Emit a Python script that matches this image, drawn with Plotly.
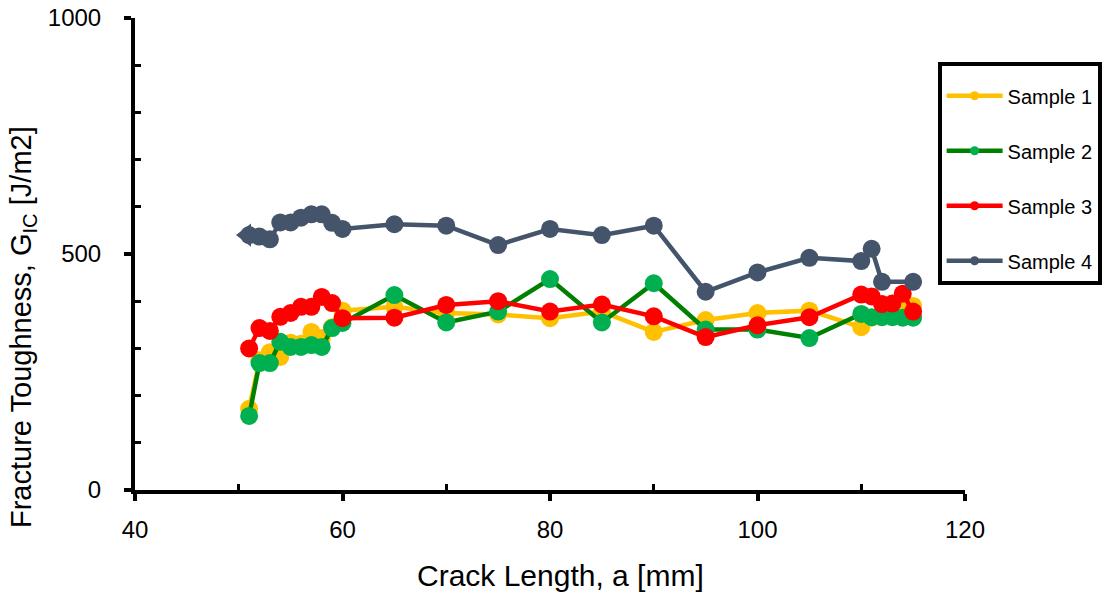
import plotly.graph_objects as go

# Sample 1
s1_x = [51, 52, 53, 54, 55, 56, 57, 58, 59, 60, 65, 70, 75, 80, 85, 90, 95, 100, 105, 110, 111, 112, 113, 114, 115]
s1_y = [172, 275, 292, 282, 312, 310, 335, 322, 345, 380, 388, 375, 372, 364, 378, 335, 360, 375, 380, 345, 365, 375, 385, 395, 390]
# Sample 2
s2_x = [51, 52, 53, 54, 55, 56, 57, 58, 59, 60, 65, 70, 75, 80, 85, 90, 95, 100, 105, 110, 111, 112, 113, 114, 115]
s2_y = [157, 269, 269, 314, 303, 303, 307, 303, 343, 354, 413, 355, 378, 447, 355, 438, 340, 340, 322, 373, 366, 366, 366, 365, 365]
# Sample 3
s3_x = [51, 52, 53, 54, 55, 56, 57, 58, 59, 60, 65, 70, 75, 80, 85, 90, 95, 100, 105, 110, 111, 112, 113, 114, 115]
s3_y = [300, 343, 337, 367, 375, 388, 388, 409, 396, 364, 365, 392, 400, 378, 393, 368, 324, 349, 366, 414, 410, 394, 395, 416, 378]
# Sample 4
s4_x = [51, 52, 53, 54, 55, 56, 57, 58, 59, 60, 65, 70, 75, 80, 85, 90, 95, 100, 105, 110, 111, 112, 115]
s4_y = [540, 537, 531, 567, 567, 577, 584, 584, 566, 553, 563, 560, 519, 553, 540, 560, 420, 461, 492, 485, 511, 441, 441]

names = ["Sample 1", "Sample 2", "Sample 3", "Sample 4"]
line_colors = ["#FFC000", "#008000", "#FF0000", "#44546A"]
marker_colors = ["#FFC000", "#00B050", "#FF0000", "#44546A"]

x_title = "Crack Length, a [mm]"
y_title = "Fracture Toughness, G<sub>IC</sub> [J/m2]"

fig = go.Figure()
series = [(s1_x, s1_y), (s2_x, s2_y), (s3_x, s3_y), (s4_x, s4_y)]
for (xs, ys), n, lc, mc in zip(series, names, line_colors, marker_colors):
    fig.add_trace(go.Scatter(x=xs, y=ys, mode="lines+markers", name=n,
                             line=dict(color=lc, width=4.5),
                             marker=dict(color=mc, size=18),
                             showlegend=False))
# triangle marker at start of sample 4
fig.add_trace(go.Scatter(x=[s4_x[0] - 0.3], y=[s4_y[0]], mode="markers",
                         marker=dict(color=marker_colors[3], size=20, symbol="triangle-left"),
                         showlegend=False))
# legend entries
for i, (n, lc, mc) in enumerate(zip(names, line_colors, marker_colors)):
    fig.add_trace(go.Scatter(x=[None], y=[None], mode="lines+markers", name=n,
                             line=dict(color=lc, width=4.5),
                             marker=dict(color=mc, size=9),
                             legendgroup=f"g{i}"))

FONT = "Liberation Sans, Arial"
tick_font = dict(family=FONT, size=24, color="#000000")

fig.update_layout(
    width=1118, height=592,
    margin=dict(l=135, r=153, t=18, b=102),
    plot_bgcolor="white", paper_bgcolor="white",
    font=dict(family=FONT, color="#000000"),
    xaxis=dict(range=[40, 120], tickvals=[40, 60, 80, 100, 120], showgrid=False, zeroline=False,
               showline=True, linecolor="black", linewidth=4, automargin=False,
               ticks="outside", ticklen=7, tickwidth=4, tickcolor="black",
               minor=dict(tickvals=[50, 70, 90, 110], ticks="inside", ticklen=6, tickwidth=3, tickcolor="black"),
               tickfont=tick_font, ticklabelstandoff=8),
    yaxis=dict(range=[0, 1000], tickvals=[0, 500, 1000], showgrid=False, zeroline=False,
               showline=True, linecolor="black", linewidth=4, automargin=False,
               ticks="outside", ticklen=7, tickwidth=4, tickcolor="black",
               minor=dict(tickvals=[100, 200, 300, 400, 600, 700, 800, 900], ticks="inside", ticklen=6, tickwidth=3, tickcolor="black"),
               tickfont=tick_font, ticklabelstandoff=18),
    legend=dict(x=0.967, y=0.907, xanchor="left", yanchor="top",
                bordercolor="black", borderwidth=4, bgcolor="white",
                font=dict(family=FONT, size=20, color="#000000"),
                title=dict(text=" ", font=dict(size=8)),
                tracegroupgap=26, itemwidth=56),
    annotations=[
        dict(text=x_title, xref="paper", yref="paper", x=(560 - 135) / 830, y=(490 - 575) / 472,
             xanchor="center", yanchor="middle", showarrow=False,
             font=dict(family=FONT, size=30, color="#000000")),
        dict(text=y_title, xref="paper", yref="paper", x=(23 - 135) / 830, y=(490 - 327) / 472,
             xanchor="center", yanchor="middle", showarrow=False, textangle=-90,
             font=dict(family=FONT, size=29, color="#000000")),
    ],
)

fig.write_html("out.html")
